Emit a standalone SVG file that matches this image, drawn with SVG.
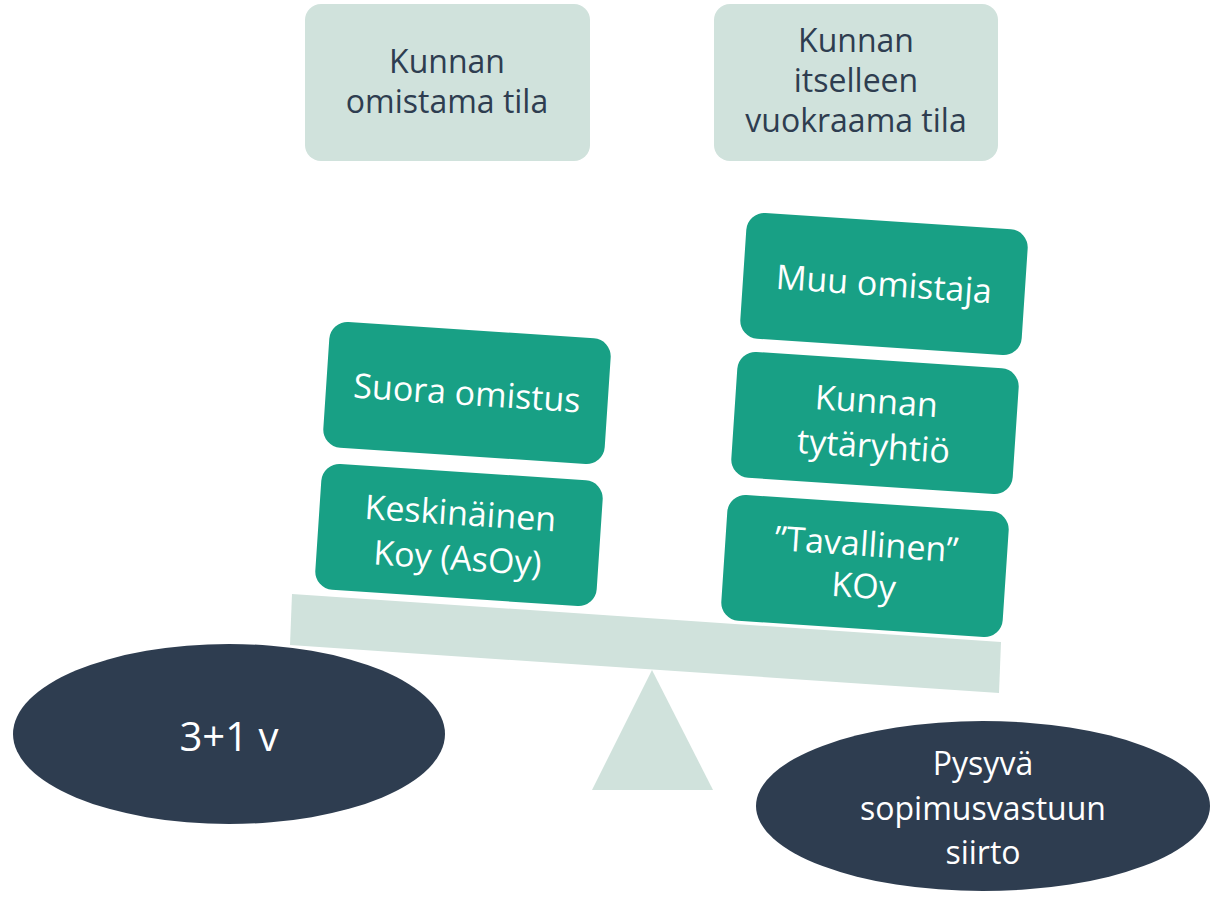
<svg xmlns="http://www.w3.org/2000/svg" width="1212" height="898" viewBox="0 0 1212 898">
  <style>
    .light { fill: #D0E2DC; }
    .green { fill: #18A085; }
    .navy { fill: #2E3D50; }
    .t { font-family: "Open Sans", "Noto Sans", sans-serif; text-anchor: middle; }
    .dark { fill: #2E3D50; font-size: 32px; }
    .w34 { fill: #FFFFFF; font-size: 34px; }
    .w32 { fill: #FFFFFF; font-size: 32px; }
    .w40 { fill: #FFFFFF; font-size: 40px; }
  </style>
  <rect width="1212" height="898" fill="#FFFFFF"/>

  <g id="top-left">
    <rect class="light" x="305" y="4" width="285" height="157" rx="16"/>
    <text class="t dark" x="447" y="73">Kunnan</text>
    <text class="t dark" x="447" y="113">omistama tila</text>
  </g>
  <g id="top-right">
    <rect class="light" x="714" y="4" width="284" height="157" rx="16"/>
    <text class="t dark" x="856" y="52">Kunnan</text>
    <text class="t dark" x="856" y="92">itselleen</text>
    <text class="t dark" x="856" y="132">vuokraama tila</text>
  </g>

  <g id="beam">
    <polygon class="light" points="292,594 1001,642 999,693 290,645"/>
  </g>
  <g id="fulcrum">
    <polygon class="light" points="652,670 713,790 592,790"/>
  </g>

  <g id="suora" transform="translate(467,393) rotate(3.8)">
    <rect class="green" x="-141" y="-63" width="282" height="126" rx="18"/>
    <text class="t w34" x="0" y="12">Suora omistus</text>
  </g>
  <g id="keskinainen" transform="translate(459,535) rotate(3.8)">
    <rect class="green" x="-141" y="-63" width="282" height="126" rx="18"/>
    <text class="t w34" x="0" y="-10">Keskinäinen</text>
    <text class="t w34" x="0" y="35">Koy (AsOy)</text>
  </g>
  <g id="muu" transform="translate(884,284) rotate(3.8)">
    <rect class="green" x="-141" y="-63" width="282" height="126" rx="18"/>
    <text class="t w34" x="0" y="12">Muu omistaja</text>
  </g>
  <g id="tytaryhtio" transform="translate(875,423) rotate(3.8)">
    <rect class="green" x="-141" y="-63" width="282" height="126" rx="18"/>
    <text class="t w34" x="0" y="-10">Kunnan</text>
    <text class="t w34" x="0" y="35">tytäryhtiö</text>
  </g>
  <g id="tavallinen" transform="translate(865,566) rotate(3.8)">
    <rect class="green" x="-141" y="-63" width="282" height="126" rx="18"/>
    <text class="t w34" x="0" y="-10">”Tavallinen”</text>
    <text class="t w34" x="0" y="32">KOy</text>
  </g>

  <g id="left-ellipse">
    <ellipse class="navy" cx="229" cy="734" rx="216" ry="90"/>
    <text class="t w40" x="229" y="751">3+1 v</text>
  </g>
  <g id="right-ellipse">
    <ellipse class="navy" cx="983" cy="806" rx="227" ry="85"/>
    <text class="t w32" x="983" y="775">Pysyvä</text>
    <text class="t w32" x="983" y="820">sopimusvastuun</text>
    <text class="t w32" x="983" y="864">siirto</text>
  </g>
</svg>
